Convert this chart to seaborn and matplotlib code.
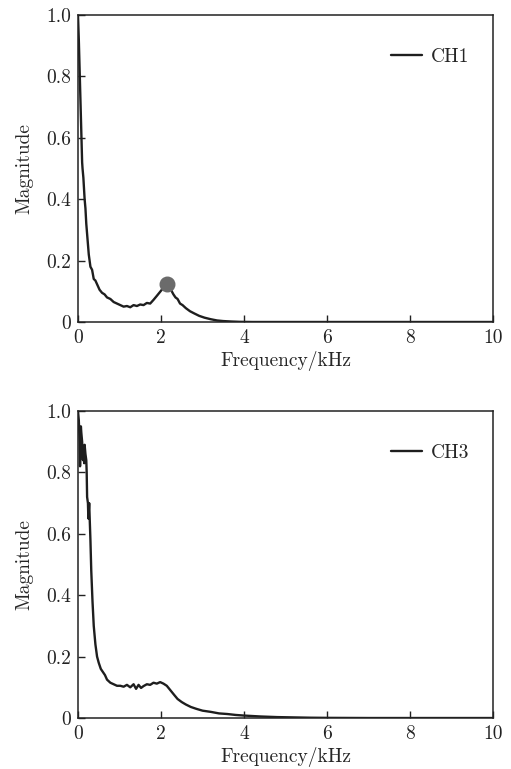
import numpy as np
import pandas as pd
import matplotlib
matplotlib.use("Agg")
import matplotlib.pyplot as plt
import seaborn as sns

# CH1 spectrum
ch1_freq = [0.0, 0.02, 0.04, 0.06, 0.08, 0.10, 0.11, 0.13, 0.16, 0.18, 0.20, 0.23, 0.26, 0.30,
            0.34, 0.38, 0.42, 0.47, 0.52, 0.58, 0.64, 0.70, 0.78, 0.86, 0.94, 1.02, 1.10, 1.18,
            1.26, 1.34, 1.42, 1.50, 1.58, 1.66, 1.74, 1.82, 1.90, 1.96, 2.02, 2.08, 2.14, 2.18,
            2.22, 2.26, 2.30, 2.35, 2.40, 2.46, 2.52, 2.60, 2.70, 2.80, 2.92, 3.05, 3.20, 3.35,
            3.50, 3.70, 3.90, 4.2, 5, 6, 7, 8, 9, 10]
ch1_mag = [1.0, 0.92, 0.82, 0.72, 0.62, 0.52, 0.50, 0.47, 0.40, 0.37, 0.32, 0.27, 0.22, 0.18,
           0.17, 0.14, 0.135, 0.12, 0.105, 0.095, 0.09, 0.08, 0.075, 0.065, 0.06, 0.055, 0.05, 0.052,
           0.048, 0.055, 0.052, 0.057, 0.055, 0.062, 0.060, 0.072, 0.085, 0.095, 0.105, 0.112, 0.12, 0.11,
           0.118, 0.10, 0.09, 0.08, 0.075, 0.06, 0.055, 0.045, 0.035, 0.028, 0.02, 0.014, 0.009, 0.005,
           0.003, 0.0015, 0.0005, 0.0, 0, 0, 0, 0, 0, 0]
ch1_peak = (2.15, 0.125)

# CH3 spectrum
ch3_freq = [0.0, 0.02, 0.04, 0.05, 0.06, 0.07, 0.08, 0.10, 0.12, 0.13, 0.15, 0.16, 0.18, 0.20,
            0.21, 0.22, 0.24, 0.25, 0.27, 0.28, 0.30, 0.32, 0.35, 0.38, 0.42, 0.46, 0.50, 0.55,
            0.60, 0.65, 0.70, 0.78, 0.86, 0.94, 1.02, 1.10, 1.18, 1.26, 1.34, 1.40, 1.46, 1.52,
            1.58, 1.66, 1.74, 1.82, 1.90, 1.98, 2.06, 2.14, 2.20, 2.26, 2.32, 2.40, 2.50, 2.60,
            2.72, 2.85, 3.0, 3.2, 3.4, 3.6, 3.8, 4.0, 4.4, 4.8, 5.2, 5.6, 6.0, 7, 8, 9, 10]
ch3_mag = [1.0, 0.97, 0.90, 0.82, 0.88, 0.95, 0.93, 0.90, 0.84, 0.88, 0.83, 0.89, 0.86, 0.84,
           0.80, 0.72, 0.70, 0.65, 0.70, 0.66, 0.58, 0.48, 0.38, 0.30, 0.24, 0.20, 0.18, 0.16,
           0.15, 0.14, 0.125, 0.115, 0.11, 0.105, 0.105, 0.102, 0.108, 0.100, 0.110, 0.095, 0.108, 0.098,
           0.104, 0.110, 0.108, 0.115, 0.112, 0.117, 0.112, 0.105, 0.095, 0.085, 0.075, 0.062, 0.052, 0.044,
           0.036, 0.030, 0.024, 0.020, 0.015, 0.013, 0.010, 0.008, 0.005, 0.003, 0.002, 0.001, 0.0005,
           0, 0, 0, 0]

xticks = [0, 2, 4, 6, 8, 10]
yticks = [0, 0.2, 0.4, 0.6, 0.8, 1.0]
ytick_labels = ["0", "0.2", "0.4", "0.6", "0.8", "1.0"]

sns.set_theme(style="ticks")
plt.rcParams['font.family'] = ['cmr10', 'DejaVu Serif']
plt.rcParams['axes.formatter.use_mathtext'] = True
plt.rcParams['font.size'] = 14

fig = plt.figure(figsize=(5.11, 7.69), dpi=100)
ax1 = fig.add_axes([0.1526, 0.5813, 0.812, 0.3992])
ax2 = fig.add_axes([0.1526, 0.0663, 0.812, 0.3992])

panels = [(ax1, ch1_freq, ch1_mag, "CH1"), (ax2, ch3_freq, ch3_mag, "CH3")]
for ax, f, m, name in panels:
    df = pd.DataFrame({"Frequency": f, "Magnitude": m})
    sns.lineplot(data=df, x="Frequency", y="Magnitude", ax=ax, color="#1e1e1e",
                 linewidth=1.7, label=name)
    ax.set_xlim(0, 10)
    ax.set_ylim(0, 1.0)
    ax.set_xticks(xticks)
    ax.set_xticklabels([str(t) for t in xticks])
    ax.set_yticks(yticks)
    ax.set_yticklabels(ytick_labels)
    ax.tick_params(axis="x", direction="in", length=5, width=1, labelsize=14,
                   colors="#222222", pad=5)
    ax.tick_params(axis="y", direction="in", length=5, width=1, labelsize=14,
                   colors="#222222", pad=5)
    ax.set_xlabel("Frequency/kHz", fontsize=14, labelpad=3)
    ax.set_ylabel("Magnitude", fontsize=14, labelpad=9)
    for s in ax.spines.values():
        s.set_linewidth(1.1)
        s.set_color("#222222")
    ax.legend(loc="upper right", frameon=False, fontsize=14, handlelength=1.6,
              handletextpad=0.45, bbox_to_anchor=(0.985, 0.95))

ax1.scatter([ch1_peak[0]], [ch1_peak[1]], s=110, color="#6b6b6b", zorder=5)

fig.savefig("out.png", dpi=100)
